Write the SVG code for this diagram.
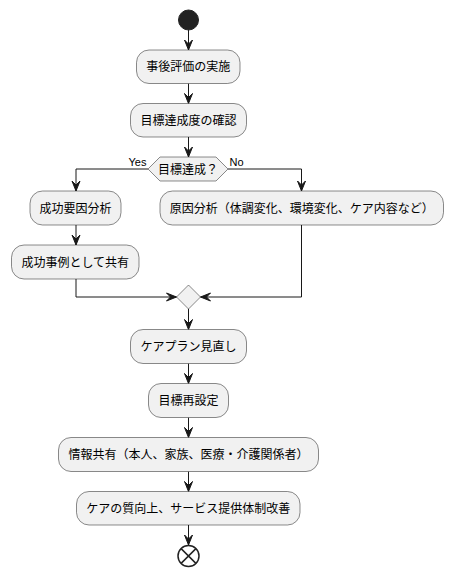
<svg xmlns="http://www.w3.org/2000/svg" width="453" height="575" viewBox="0 0 453 575">
<style>
.box{fill:#F1F1F1;stroke:#181818;stroke-width:0.5}
.t{font-family:"Noto Sans CJK JP","Noto Sans",sans-serif;font-size:12px;fill:#000;text-anchor:middle}
.lbl{font-family:"Liberation Sans","Noto Sans",sans-serif;font-size:11px;fill:#000}
.ln{fill:none;stroke:#181818;stroke-width:1}
.ah{fill:#181818;stroke:#181818;stroke-width:1}
</style>
<rect width="453" height="575" fill="#FFFFFF"/>
<g id="connectors">
<path class="ln" d="M188.5,30 V50"/>
<polygon class="ah" points="184.5,40 188.5,50 192.5,40 188.5,44"/>
<path class="ln" d="M188.5,83.5 V103.5"/>
<polygon class="ah" points="184.5,93.5 188.5,103.5 192.5,93.5 188.5,97.5"/>
<path class="ln" d="M188.5,137 V157"/>
<polygon class="ah" points="184.5,147 188.5,157 192.5,147 188.5,151"/>
<path class="ln" d="M148,169 H76 V191"/>
<polygon class="ah" points="72,181 76,191 80,181 76,185"/>
<path class="ln" d="M228,169 H301.5 V191"/>
<polygon class="ah" points="297.5,181 301.5,191 305.5,181 301.5,185"/>
<path class="ln" d="M76,225 V245"/>
<polygon class="ah" points="72,235 76,245 80,235 76,239"/>
<path class="ln" d="M76,279 V297 H176.5"/>
<polygon class="ah" points="166.5,293 176.5,297 166.5,301 170.5,297"/>
<path class="ln" d="M301.5,225 V297 H200.5"/>
<polygon class="ah" points="210.5,293 200.5,297 210.5,301 206.5,297"/>
<path class="ln" d="M188.5,309 V329.5"/>
<polygon class="ah" points="184.5,319.5 188.5,329.5 192.5,319.5 188.5,323.5"/>
<path class="ln" d="M188.5,363.5 V383.5"/>
<polygon class="ah" points="184.5,373.5 188.5,383.5 192.5,373.5 188.5,377.5"/>
<path class="ln" d="M188.5,417.5 V437.5"/>
<polygon class="ah" points="184.5,427.5 188.5,437.5 192.5,427.5 188.5,431.5"/>
<path class="ln" d="M188.5,471.5 V491.5"/>
<polygon class="ah" points="184.5,481.5 188.5,491.5 192.5,481.5 188.5,485.5"/>
<path class="ln" d="M188.5,525 V545"/>
<polygon class="ah" points="184.5,535 188.5,545 192.5,535 188.5,539"/>
<text class="lbl" x="128.5" y="166">Yes</text>
<text class="lbl" x="229.5" y="166">No</text>
</g>
<g id="start"><circle cx="188.5" cy="20" r="10" fill="#222222" stroke="#222222"/></g>
<g id="n1"><rect class="box" x="136.5" y="50" width="103.5" height="33.5" rx="12.5"/><text class="t" x="188.25" y="71">事後評価の実施</text></g>
<g id="n2"><rect class="box" x="130.5" y="103.5" width="116" height="33.5" rx="12.5"/><text class="t" x="188.5" y="124.5">目標達成度の確認</text></g>
<g id="d1"><polygon class="box" points="148,169 160,157 216,157 228,169 216,181 160,181"/><text class="t" x="188" y="173.5">目標達成？</text></g>
<g id="n3"><rect class="box" x="30" y="191" width="91" height="34" rx="12.5"/><text class="t" x="75.5" y="212.5">成功要因分析</text></g>
<g id="n4"><rect class="box" x="160" y="191" width="283.5" height="34" rx="12.5"/><text class="t" x="301.75" y="212.5">原因分析（体調変化、環境変化、ケア内容など）</text></g>
<g id="n5"><rect class="box" x="11.5" y="245" width="127.5" height="34" rx="12.5"/><text class="t" x="75.25" y="266.5">成功事例として共有</text></g>
<g id="merge"><polygon class="box" points="188.5,285 200.5,297 188.5,309 176.5,297"/></g>
<g id="n6"><rect class="box" x="130.5" y="329.5" width="116" height="34" rx="12.5"/><text class="t" x="188.5" y="351">ケアプラン見直し</text></g>
<g id="n7"><rect class="box" x="148.5" y="383.5" width="80" height="34" rx="12.5"/><text class="t" x="188.5" y="405">目標再設定</text></g>
<g id="n8"><rect class="box" x="58.5" y="437.5" width="260" height="34" rx="12.5"/><text class="t" x="188.5" y="459">情報共有（本人、家族、医療・介護関係者）</text></g>
<g id="n9"><rect class="box" x="76.5" y="491.5" width="223.5" height="33.5" rx="12.5"/><text class="t" x="188.25" y="512.5">ケアの質向上、サービス提供体制改善</text></g>
<g id="stop"><circle cx="188.5" cy="556" r="10.5" fill="none" stroke="#222222" stroke-width="1.5"/><path d="M181.1,548.6 L195.9,563.4 M195.9,548.6 L181.1,563.4" stroke="#222222" stroke-width="1.5"/></g>
</svg>
